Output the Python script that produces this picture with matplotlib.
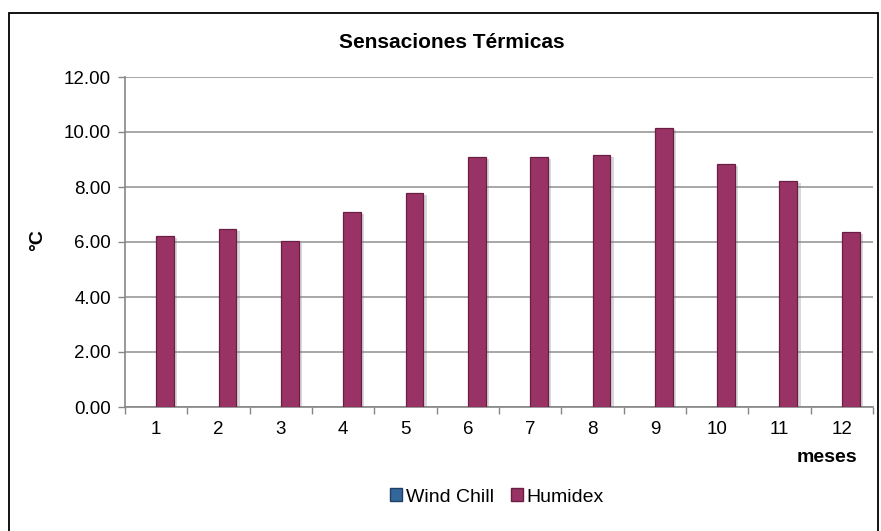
import matplotlib
matplotlib.use("Agg")
import matplotlib.pyplot as plt
import matplotlib.patheffects as pe
from matplotlib.patches import Rectangle, Patch
from matplotlib.ticker import FixedLocator, FormatStrFormatter
import numpy as np

plt.rcParams['font.family'] = ['Liberation Sans', 'DejaVu Sans']

months = ['1', '2', '3', '4', '5', '6', '7', '8', '9', '10', '11', '12']
wind_chill = [0, 0, 0, 0, 0, 0, 0, 0, 0, 0, 0, 0]
humidex = [6.22, 6.47, 6.03, 7.08, 7.80, 9.10, 9.10, 9.15, 10.15, 8.85, 8.23, 6.37]
yticks = [0, 2, 4, 6, 8, 10, 12]

W, H = 881, 531
fig = plt.figure(figsize=(W / 100, H / 100), dpi=100)
fig.patch.set_facecolor('white')

left, right, top, bottom = 125, 873, 77, 407
ax = fig.add_axes([left / W, 1 - bottom / H, (right - left) / W, (bottom - top) / H])

x = np.arange(len(months))
w = 0.2857
shadow = [pe.SimplePatchShadow(offset=(2.5, -1.5), shadow_rgbFace='#808080', alpha=0.3), pe.Normal()]
ax.bar(x - w / 2, wind_chill, width=w, color='#336699', edgecolor='none', zorder=3)
bars = ax.bar(x + w / 2, humidex, width=w, color='#993366', edgecolor='#6a1f42',
              linewidth=0.9, zorder=3)
for b in bars:
    b.set_path_effects(shadow)

ax.set_xlim(-0.5, len(months) - 0.5)
ax.set_ylim(0, 12)

ax.yaxis.set_major_locator(FixedLocator(yticks))
ax.yaxis.set_major_formatter(FormatStrFormatter('%.2f'))
ax.grid(axis='y', color='#a0a0a0', linewidth=1.3, zorder=0)
ax.set_axisbelow(True)

ax.set_xticks(np.arange(len(months) + 1) - 0.5)
ax.set_xticklabels([])
ax.set_xticks(x, minor=True)
ax.set_xticklabels(months, minor=True)
ax.tick_params(axis='x', which='minor', length=0, pad=10, labelsize=13.5)
ax.tick_params(axis='x', which='major', length=5, color='#868686', width=1)
ax.tick_params(axis='y', length=5, color='#868686', width=1, pad=5, labelsize=13.5)

for s in ['top', 'right']:
    ax.spines[s].set_visible(False)
for s in ['left', 'bottom']:
    ax.spines[s].set_color('#868686')
    ax.spines[s].set_linewidth(1.2)

fig.text(452 / W, 1 - 42 / H, 'Sensaciones Térmicas', ha='center', va='center',
         fontsize=15, fontweight='bold')
fig.text(38 / W, 1 - 240 / H, '°C', ha='center', va='center', rotation=90,
         fontsize=14, fontweight='bold')
fig.text(827 / W, 1 - 457 / H, 'meses', ha='center', va='center',
         fontsize=14, fontweight='bold')

handles = [Patch(facecolor='#336699', edgecolor='#1f3f66', label='Wind Chill'),
           Patch(facecolor='#993366', edgecolor='#6a1f42', label='Humidex')]
fig.legend(handles=handles, loc='center', bbox_to_anchor=(497 / W, 1 - 497 / H),
           ncol=2, frameon=False, fontsize=14, handlelength=0.6, handleheight=0.6,
           handletextpad=0.2, columnspacing=0.9)

fig.patches.append(Rectangle((9 / W, -0.05), (878 - 9) / W, 1.05 - 13 / H,
                             transform=fig.transFigure, fill=False,
                             edgecolor='black', linewidth=1.3))

fig.savefig('out.png', dpi=100)
